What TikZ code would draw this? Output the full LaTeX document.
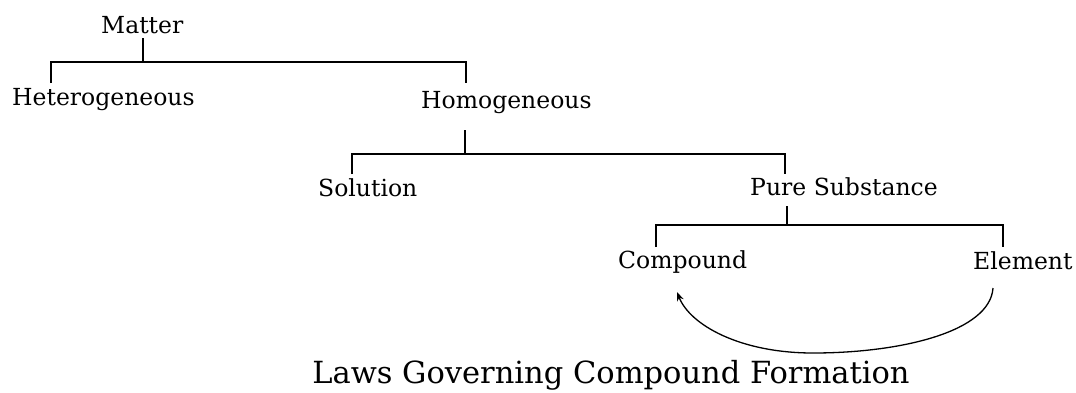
\documentclass[tikz,border=0pt]{standalone}
\usepackage{fontspec}
\setmainfont{DejaVu Serif}
\usetikzlibrary{arrows.meta}
\begin{document}
\begin{tikzpicture}[x=1pt,y=-1pt,
  lbl/.style={font=\fontsize{23.5}{26}\selectfont, inner sep=0pt, anchor=base west},
  ttl/.style={font=\fontsize{30.5}{34}\selectfont, inner sep=0pt, anchor=base},
  link/.style={line width=1.4pt},
  flow/.style={line width=1.3pt, -{Stealth[length=9pt,width=7pt]}}]
\useasboundingbox (0,0) rectangle (1076,392);
\node[lbl] (matter) at (101,33) {Matter};
\node[lbl] (het) at (12,105) {Heterogeneous};
\node[lbl] (hom) at (421,108) {Homogeneous};
\node[lbl] (sol) at (318,196) {Solution};
\node[lbl] (pure) at (750,195) {Pure Substance};
\node[lbl] (comp) at (618,268) {Compound};
\node[lbl] (elem) at (973,269) {Element};
\node[ttl] (laws) at (611,383) {Laws Governing Compound Formation};
% junction coordinates
\coordinate (mS) at (143,38);
\coordinate (hetT) at (51,83);
\coordinate (homT) at (466,83);
\coordinate (homS) at (465,130);
\coordinate (solT) at (352,174);
\coordinate (pureT) at (785,174);
\coordinate (pureS) at (787,206);
\coordinate (compT) at (656,247);
\coordinate (elemT) at (1003,247);
\coordinate (elemS) at (993,288);
\coordinate (compS) at (677,292);
% tree connectors
\draw[link] (mS) -- (mS |- 0,62);
\draw[link] (hetT) -- ++(0,-21) -| (homT);
\draw[link] (homS) -- (homS |- 0,154);
\draw[link] (solT) -- ++(0,-20) -| (pureT);
\draw[link] (pureS) -- (pureS |- 0,225);
\draw[link] (compT) -- ++(0,-22) -| (elemT);
% curved arrow
\draw[flow] (elemS) .. controls (990,332) and (900,353) .. (813,353)
  .. controls (740,353) and (690,325) .. (compS);
\end{tikzpicture}
\end{document}
